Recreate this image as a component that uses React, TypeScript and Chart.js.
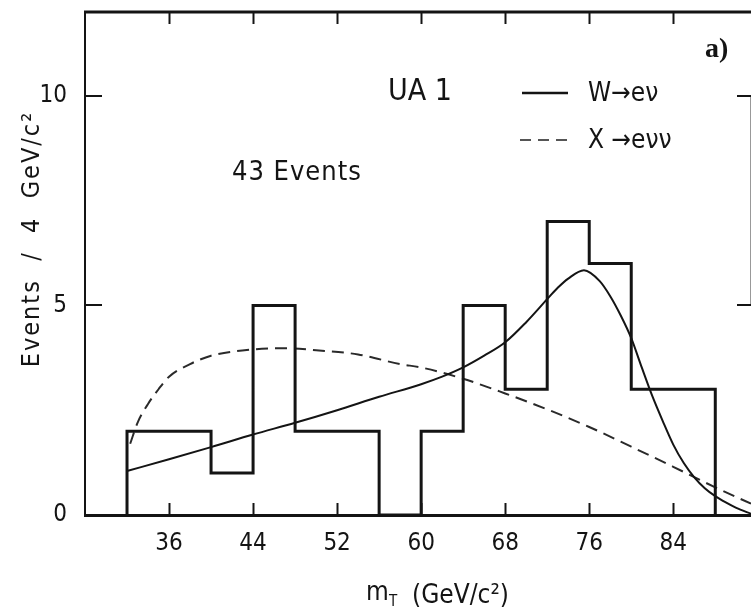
import React, { useEffect, useRef } from 'react';
import { Chart, registerables } from 'chart.js';

Chart.register(...registerables);

// ---- data ----
const binEdges = [32, 36, 40, 44, 48, 52, 56, 60, 64, 68, 72, 76, 80, 84];
const binWidth = 4;
const eventCounts = [2, 2, 1, 5, 2, 2, 0, 2, 5, 3, 7, 6, 3, 3];

// W -> e nu expectation (solid)
const wMass = [32, 36, 40, 44, 48, 52, 56, 60, 62, 64, 66, 68, 70, 72, 73, 74, 75.5, 77, 78, 79, 80, 81, 82, 83, 84, 85, 86, 87, 88, 89, 90, 91.4];
const wEvents = [1.05, 1.33, 1.62, 1.92, 2.2, 2.5, 2.82, 3.12, 3.3, 3.52, 3.8, 4.12, 4.6, 5.15, 5.42, 5.64, 5.84, 5.58, 5.22, 4.76, 4.22, 3.52, 2.84, 2.24, 1.68, 1.24, 0.9, 0.64, 0.45, 0.3, 0.17, 0.03];

// X -> e nu nu expectation (dashed)
const xMass = [32.3, 33, 34, 35, 36, 38, 40, 44, 47, 50, 54, 58, 60, 64, 68, 72, 76, 80, 84, 88, 91.4];
const xEvents = [1.7, 2.2, 2.65, 3.0, 3.3, 3.6, 3.8, 3.95, 3.98, 3.93, 3.83, 3.6, 3.52, 3.25, 2.9, 2.52, 2.1, 1.63, 1.15, 0.66, 0.27];

const xTickValues = [36, 44, 52, 60, 68, 76, 84];
const yTickValues = [0, 5, 10];
const xRange = [28, 91.4];
const yRange = [0, 12];

const INK = '#141414';
const FONT = '"DejaVu Sans Condensed", "DejaVu Sans", sans-serif';

const annotationPlugin = {
  id: 'annotations',
  afterDraw(chart: any) {
    const { ctx, chartArea: ca, scales } = chart;
    const x = scales.x;
    const y = scales.y;
    const line = (x1: number, y1: number, x2: number, y2: number) => {
      ctx.beginPath();
      ctx.moveTo(x1, y1);
      ctx.lineTo(x2, y2);
      ctx.stroke();
    };
    ctx.save();
    ctx.strokeStyle = INK;
    ctx.fillStyle = INK;
    ctx.lineCap = 'butt';

    // top frame
    ctx.lineWidth = 3;
    line(ca.left - 1, ca.top, ca.right, ca.top);
    // right frame (cut at picture edge)
    ctx.lineWidth = 1;
    ctx.strokeStyle = '#999';
    line(ca.right - 0.5, y.getPixelForValue(10), ca.right - 0.5, y.getPixelForValue(5));
    ctx.strokeStyle = INK;

    // inward tick marks
    ctx.lineWidth = 2;
    xTickValues.forEach((v) => {
      const px = Math.round(x.getPixelForValue(v)) + 0.5;
      line(px, ca.bottom, px, ca.bottom - 12);
      line(px, ca.top, px, ca.top + 12);
    });
    yTickValues.filter((v) => v > 0).forEach((v) => {
      const py = Math.round(y.getPixelForValue(v));
      line(ca.left, py, ca.left + 17, py);
      line(ca.right, py, ca.right - 14, py);
    });

    // texts
    ctx.textBaseline = 'alphabetic';
    ctx.textAlign = 'left';
    ctx.font = `30px ${FONT}`;
    ctx.fillText('UA 1', 388, 100);

    ctx.font = `27px ${FONT}`;
    (ctx as any).letterSpacing = '1px';
    ctx.fillText('43 Events', 232, 180);
    (ctx as any).letterSpacing = '0px';

    ctx.font = `bold 28px "Liberation Serif", serif`;
    ctx.fillText('a)', 705, 57);

    // legend
    ctx.lineWidth = 2.5;
    line(522, 93, 568, 93);
    ctx.setLineDash([11, 7]);
    ctx.lineWidth = 2;
    ctx.strokeStyle = '#555';
    line(520, 140, 574, 140);
    ctx.setLineDash([]);
    ctx.strokeStyle = INK;
    ctx.font = `26px ${FONT}`;
    ctx.fillText('W\u2192e\u03BD', 588, 101);
    ctx.fillText('X \u2192e\u03BD\u03BD', 588, 148);

    // x title
    ctx.font = `26px ${FONT}`;
    ctx.fillText('m', 366, 600);
    ctx.font = `15px ${FONT}`;
    ctx.fillText('T', 389, 606);
    ctx.font = `26px ${FONT}`;
    ctx.fillText('(GeV/c\u00B2)', 412, 603);

    // y title
    ctx.save();
    ctx.translate(39, 239);
    ctx.rotate(-Math.PI / 2);
    ctx.textAlign = 'center';
    ctx.font = `25px ${FONT}`;
    (ctx as any).letterSpacing = '2px';
    ctx.fillText('Events  /  4  GeV/c\u00B2', 0, 0);
    ctx.restore();

    ctx.restore();
  },
};

export default function App() {
  const canvasRef = useRef<HTMLCanvasElement | null>(null);

  useEffect(() => {
    const canvas = canvasRef.current;
    if (!canvas) return;

    const histPoints = [
      { x: binEdges[0], y: 0 },
      ...binEdges.map((e, i) => ({ x: e, y: eventCounts[i] })),
      { x: binEdges[binEdges.length - 1] + binWidth, y: eventCounts[eventCounts.length - 1] },
      { x: binEdges[binEdges.length - 1] + binWidth, y: 0 },
    ];
    const wPoints = wMass.map((m, i) => ({ x: m, y: wEvents[i] }));
    const xPoints = xMass.map((m, i) => ({ x: m, y: xEvents[i] }));

    const tickFont = { family: FONT, size: 24 };

    const chart = new Chart(canvas, {
      type: 'line',
      data: {
        datasets: [
          {
            label: 'Data',
            data: histPoints,
            stepped: 'before',
            borderColor: INK,
            borderWidth: 3,
            borderJoinStyle: 'miter',
            fill: false,
            pointRadius: 0,
          },
          {
            label: 'W \u2192 e\u03BD',
            data: wPoints,
            borderColor: INK,
            borderWidth: 2,
            cubicInterpolationMode: 'monotone',
            fill: false,
            pointRadius: 0,
          },
          {
            label: 'X \u2192 e\u03BD\u03BD',
            data: xPoints,
            borderColor: '#2a2a2a',
            borderWidth: 2,
            borderDash: [12, 7],
            cubicInterpolationMode: 'monotone',
            fill: false,
            pointRadius: 0,
          },
        ],
      },
      options: {
        animation: false,
        responsive: false,
        maintainAspectRatio: false,
        devicePixelRatio: 1,
        parsing: false,
        layout: { padding: { top: 12, right: 0, bottom: 0, left: 0 } },
        plugins: { legend: { display: false }, tooltip: { enabled: false }, title: { display: false } },
        scales: {
          x: {
            type: 'linear',
            min: xRange[0],
            max: xRange[1],
            afterBuildTicks: (s: any) => {
              s.ticks = xTickValues.map((v) => ({ value: v }));
            },
            afterFit: (s: any) => {
              s.height = 97;
              s.paddingLeft = 0;
              s.paddingRight = 0;
            },
            grid: { display: false, drawTicks: false },
            border: { display: true, color: INK, width: 3 },
            ticks: {
              font: tickFont,
              color: INK,
              padding: 14,
              maxRotation: 0,
              autoSkip: false,
              callback: (v: any) => String(v),
            },
          },
          y: {
            type: 'linear',
            min: yRange[0],
            max: yRange[1],
            afterBuildTicks: (s: any) => {
              s.ticks = yTickValues.map((v) => ({ value: v }));
            },
            afterFit: (s: any) => {
              s.width = 85;
              s.paddingTop = 0;
              s.paddingBottom = 0;
            },
            grid: { display: false, drawTicks: false },
            border: { display: true, color: INK, width: 2 },
            ticks: {
              font: tickFont,
              color: INK,
              padding: 18,
              autoSkip: false,
              callback: (v: any) => String(v),
            },
          },
        },
      } as any,
      plugins: [annotationPlugin],
    });

    return () => {
      chart.destroy();
    };
  }, []);

  return (
    <div style={{ position: 'absolute', left: 0, top: 0, width: 751, height: 612, background: '#fff' }}>
      <canvas ref={canvasRef} width={751} height={612} style={{ display: 'block' }} />
    </div>
  );
}
